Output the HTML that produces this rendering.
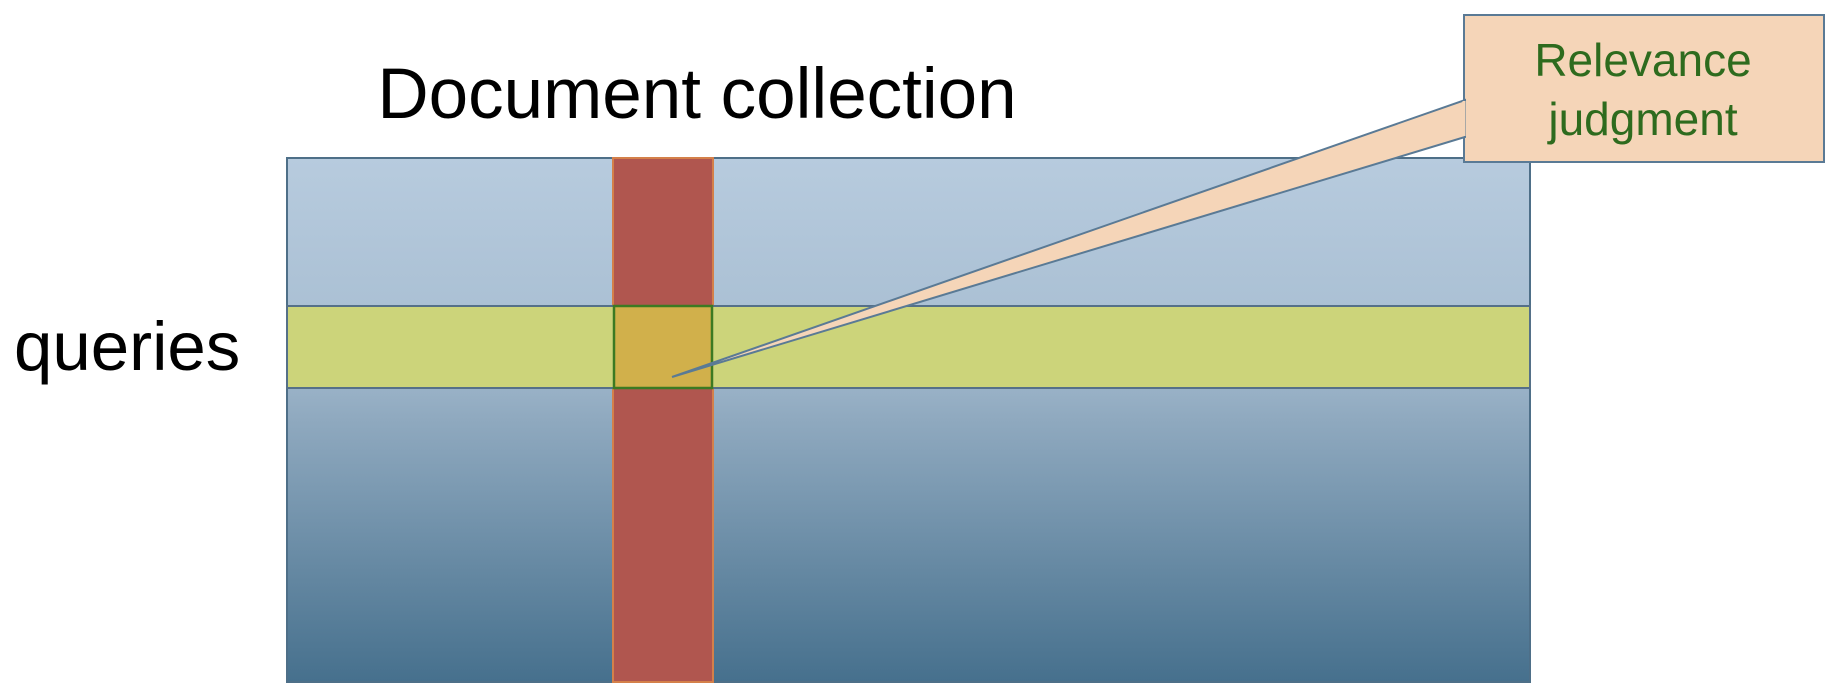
<!DOCTYPE html>
<html><head><meta charset="utf-8"><style>
html,body{margin:0;padding:0;background:#fff;}
svg{display:block;}
</style></head><body>
<svg width="1834" height="698" viewBox="0 0 1834 698" xmlns="http://www.w3.org/2000/svg">
<defs>
<linearGradient id="g" x1="0" y1="0" x2="0" y2="1">
<stop offset="0" stop-color="#b7cbde"/>
<stop offset="0.35" stop-color="#a8bed2"/>
<stop offset="0.5" stop-color="#8fa9bf"/>
<stop offset="1" stop-color="#46708d"/>
</linearGradient>
</defs>
<text x="697" y="118" text-anchor="middle" font-family="Liberation Sans, sans-serif" font-size="71" fill="#000">Document collection</text>
<text x="14" y="370" font-family="Liberation Sans, sans-serif" font-size="69" fill="#000">queries</text>
<rect x="287" y="158" width="1243" height="524" fill="url(#g)" stroke="#4e6f88" stroke-width="2"/>
<rect x="613" y="158" width="100" height="524" fill="#b0564f" stroke="#d4804a" stroke-width="2"/>
<rect x="287" y="306" width="1243" height="82" fill="#ccd47a" stroke="#557088" stroke-width="2"/>
<rect x="614" y="306" width="98" height="82" fill="#d1b04b" stroke="#3c7a22" stroke-width="2.5"/>
<rect x="1464" y="15" width="360" height="147" fill="#f5d5b8" stroke="#5a7a95" stroke-width="2"/>
<polygon points="1465,100 1465,137 672,377" fill="#f5d5b8" stroke="#5a7a95" stroke-width="2"/>
<line x1="1464" y1="101" x2="1464" y2="136" stroke="#f5d5b8" stroke-width="3"/>
<text x="1643" y="76" text-anchor="middle" font-family="Liberation Sans, sans-serif" font-size="46" fill="#2e6b1e">Relevance</text>
<text x="1643" y="135" text-anchor="middle" font-family="Liberation Sans, sans-serif" font-size="46" fill="#2e6b1e">judgment</text>
</svg>
</body></html>
